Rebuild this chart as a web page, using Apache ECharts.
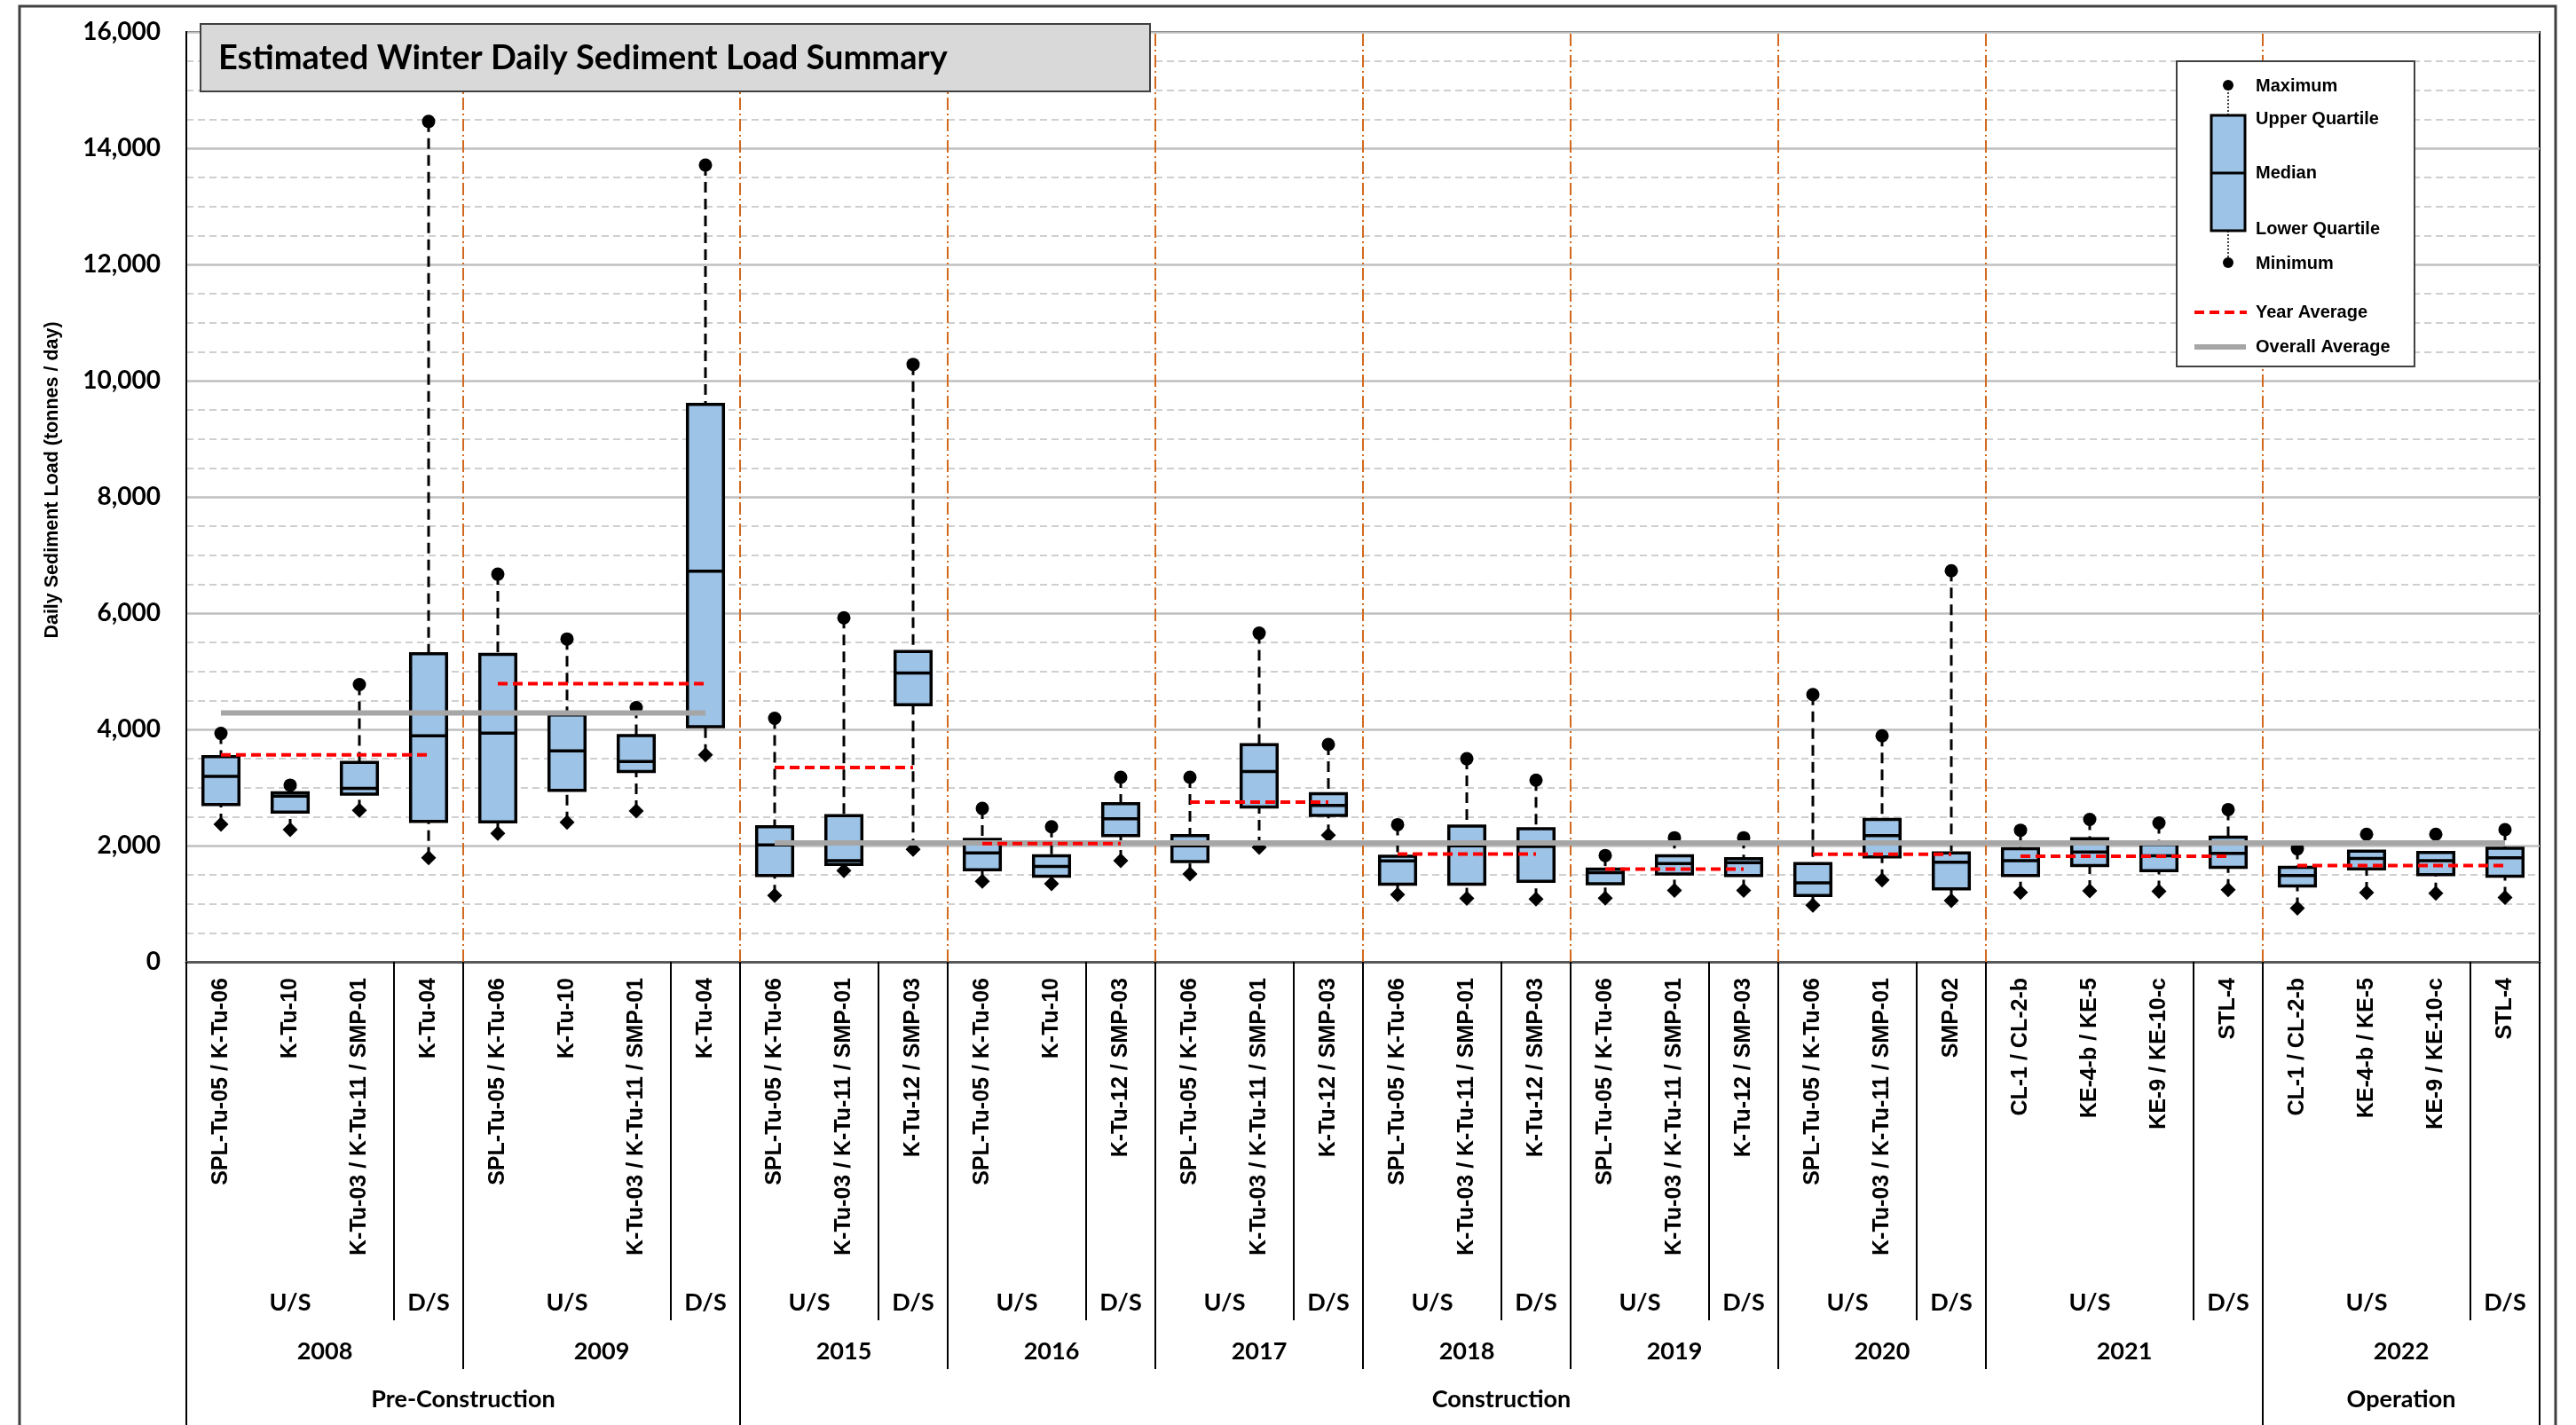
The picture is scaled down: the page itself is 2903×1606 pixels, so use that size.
<!DOCTYPE html>
<html>
<head>
<meta charset="utf-8">
<title>Estimated Winter Daily Sediment Load Summary</title>
<script src="https://cdn.jsdelivr.net/npm/echarts@6/dist/echarts.min.js"></script>
<style>
  html, body { margin: 0; padding: 0; background: #fff; }
  #chart { width: 2903px; height: 1606px; }
</style>
</head>
<body>
<div id="chart"></div>
<script>
// station names, in plotting order
const stations = [
  'SPL-Tu-05 / K-Tu-06', 'K-Tu-10', 'K-Tu-03 / K-Tu-11 / SMP-01', 'K-Tu-04',
  'SPL-Tu-05 / K-Tu-06', 'K-Tu-10', 'K-Tu-03 / K-Tu-11 / SMP-01', 'K-Tu-04',
  'SPL-Tu-05 / K-Tu-06', 'K-Tu-03 / K-Tu-11 / SMP-01', 'K-Tu-12 / SMP-03',
  'SPL-Tu-05 / K-Tu-06', 'K-Tu-10', 'K-Tu-12 / SMP-03',
  'SPL-Tu-05 / K-Tu-06', 'K-Tu-03 / K-Tu-11 / SMP-01', 'K-Tu-12 / SMP-03',
  'SPL-Tu-05 / K-Tu-06', 'K-Tu-03 / K-Tu-11 / SMP-01', 'K-Tu-12 / SMP-03',
  'SPL-Tu-05 / K-Tu-06', 'K-Tu-03 / K-Tu-11 / SMP-01', 'K-Tu-12 / SMP-03',
  'SPL-Tu-05 / K-Tu-06', 'K-Tu-03 / K-Tu-11 / SMP-01', 'SMP-02',
  'CL-1 / CL-2-b', 'KE-4-b / KE-5', 'KE-9 / KE-10-c', 'STL-4',
  'CL-1 / CL-2-b', 'KE-4-b / KE-5', 'KE-9 / KE-10-c', 'STL-4'
];

const maxLoad = [3930, 3040, 4770, 14460, 6670, 5555, 4375, 13710, 4190, 5920, 10280,
  2640, 2325, 3175, 3175, 5655, 3740, 2360, 3495, 3125, 1830, 2135, 2135,
  4600, 3890, 6730, 2265, 2450, 2390, 2620, 1945, 2195, 2195, 2275];
const upperQ = [3530, 2910, 3430, 5300, 5290, 4250, 3895, 9590, 2325, 2515, 5340,
  2105, 1825, 2720, 2170, 3735, 2895, 1815, 2335, 2290, 1595, 1825, 1775,
  1690, 2450, 1875, 1945, 2120, 2020, 2145, 1625, 1905, 1880, 1955];
const medianLoad = [3190, 2850, 2985, 3890, 3935, 3630, 3445, 6720, 2010, 1740, 4970,
  1875, 1640, 2460, 1995, 3275, 2690, 1735, 1995, 1985, 1535, 1690, 1705,
  1360, 2170, 1715, 1740, 1890, 1825, 1865, 1485, 1780, 1740, 1790];
const lowerQ = [2705, 2575, 2885, 2415, 2410, 2950, 3275, 4045, 1485, 1675, 4425,
  1585, 1475, 2170, 1725, 2665, 2520, 1335, 1335, 1385, 1345, 1510, 1485,
  1140, 1805, 1255, 1485, 1655, 1570, 1625, 1305, 1600, 1500, 1475];
const minLoad = [2365, 2275, 2605, 1790, 2210, 2400, 2595, 3560, 1140, 1570, 1935,
  1385, 1345, 1740, 1510, 1970, 2180, 1155, 1090, 1080, 1095, 1230, 1230,
  975, 1410, 1055, 1195, 1220, 1215, 1240, 925, 1190, 1180, 1105];

const yearLabels = ['2008', '2009', '2015', '2016', '2017', '2018', '2019', '2020', '2021', '2022'];
const yearSizes = [4, 4, 3, 3, 3, 3, 3, 3, 4, 4];
const upstreamSizes = [3, 3, 2, 2, 2, 2, 2, 2, 3, 3];
const yearAvg = [3560, 4785, 3345, 2035, 2750, 1855, 1595, 1850, 1815, 1655];

const phaseLabels = ['Pre-Construction', 'Construction', 'Operation'];
const phaseSizes = [8, 22, 4];

const overallAvg = [4283, 2045];
const overallSizes = [8, 26];

const yTicks = [0, 2000, 4000, 6000, 8000, 10000, 12000, 14000, 16000];

// ---- derived ----
const n = stations.length;
const boxData = stations.map((s, i) => [i, minLoad[i], lowerQ[i], medianLoad[i], upperQ[i], maxLoad[i]]);

const yearStarts = [];
yearSizes.reduce((acc, s) => { yearStarts.push(acc); return acc + s; }, 0);
const phaseBounds = [0];
phaseSizes.reduce((acc, s) => { phaseBounds.push(acc + s); return acc + s; }, 0);

const dividerData = yearStarts.slice(1).map(s => [s - 0.5]);

const sepDepth = { site: 404, year: 459, phase: 522 };
const sepData = [];
const tableItems = [];
const tableText = [];
yearLabels.forEach((y, k) => {
  const start = yearStarts[k];
  const us = upstreamSizes[k];
  const size = yearSizes[k];
  sepData.push([start + us, sepDepth.site]);
  if (!phaseBounds.includes(start)) sepData.push([start, sepDepth.year]);
  tableItems.push([start + us / 2, 384]); tableText.push('U/S');
  tableItems.push([start + us + (size - us) / 2, 384]); tableText.push('D/S');
  tableItems.push([start + size / 2, 439]); tableText.push(y);
});
phaseBounds.forEach(b => sepData.push([b, sepDepth.phase]));
phaseLabels.forEach((p, k) => {
  tableItems.push([(phaseBounds[k] + phaseBounds[k + 1]) / 2, 493]);
  tableText.push(p);
});

const avgSeries = [];
let oStart = 0;
overallSizes.forEach((s, k) => {
  avgSeries.push({
    name: 'Overall Average', type: 'line', xAxisIndex: 1, yAxisIndex: 0, z: 4,
    symbol: 'none', silent: true,
    data: [[oStart, overallAvg[k]], [oStart + s - 1, overallAvg[k]]],
    lineStyle: { color: '#a6a6a6', width: 6, cap: 'butt' }
  });
  oStart += s;
});
yearLabels.forEach((y, k) => {
  const s = yearStarts[k];
  avgSeries.push({
    name: 'Year Average ' + y, type: 'line', xAxisIndex: 1, yAxisIndex: 0, z: 5,
    symbol: 'none', silent: true,
    data: [[s, yearAvg[k]], [s + yearSizes[k] - 1, yearAvg[k]]],
    lineStyle: { color: '#ff0000', width: 4, type: [11, 6], cap: 'butt' }
  });
});

function renderBox(params, api) {
  const i = api.value(0);
  const top = api.coord([i, api.value(5)]);
  const q3 = api.coord([i, api.value(4)]);
  const med = api.coord([i, api.value(3)]);
  const q1 = api.coord([i, api.value(2)]);
  const bot = api.coord([i, api.value(1)]);
  const x = top[0];
  const w = api.size([1, 0])[0] * 0.52;
  const whisker = { stroke: '#000', lineWidth: 3, lineDash: [12, 7] };
  return {
    type: 'group',
    children: [
      { type: 'line', shape: { x1: x, y1: top[1], x2: x, y2: q3[1] }, style: whisker },
      { type: 'line', shape: { x1: x, y1: bot[1], x2: x, y2: q1[1] }, style: whisker },
      { type: 'rect', shape: { x: x - w / 2, y: q3[1], width: w, height: q1[1] - q3[1] },
        style: { fill: '#9dc3e6', stroke: '#000', lineWidth: 3.5 } },
      { type: 'line', shape: { x1: x - w / 2, y1: med[1], x2: x + w / 2, y2: med[1] },
        style: { stroke: '#000', lineWidth: 3.5 } },
      { type: 'circle', shape: { cx: x, cy: top[1], r: 7.5 }, style: { fill: '#000' } },
      { type: 'polygon', shape: { points: [[x, bot[1] - 8.5], [x + 8.5, bot[1]], [x, bot[1] + 8.5], [x - 8.5, bot[1]]] },
        style: { fill: '#000' } }
    ]
  };
}

const chart = echarts.init(document.getElementById('chart'));

const legendText = (t, y) => ({
  type: 'text', x: 2542, y, z: 101,
  style: { text: t, fontFamily: 'Liberation Sans', fontWeight: 'bold', fontSize: 20, fill: '#000', verticalAlign: 'middle' }
});

chart.setOption({
  animation: false,
  backgroundColor: '#fff',
  textStyle: { fontFamily: 'Lato' },
  grid: [
    { left: 210, right: 41, top: 36, bottom: 522, show: true, borderColor: '#000', borderWidth: 2, outerBoundsMode: 'none' },
    { left: 210, right: 41, top: 1084, bottom: 0, outerBoundsMode: 'none' }
  ],
  xAxis: [
    {
      type: 'category', gridIndex: 0, data: stations, boundaryGap: true,
      axisTick: { show: false },
      axisLine: { onZero: false, lineStyle: { color: '#595959', width: 3 } },
      axisLabel: { interval: 0, rotate: 90, margin: 18, fontFamily: 'Liberation Sans', fontWeight: 'bold', fontSize: 25, color: '#000' },
      splitLine: { show: false }
    },
    { type: 'value', gridIndex: 0, min: -0.5, max: n - 0.5, show: false },
    { type: 'value', gridIndex: 1, min: 0, max: n, show: false }
  ],
  yAxis: [
    {
      type: 'value', gridIndex: 0, min: yTicks[0], max: yTicks[yTicks.length - 1], interval: yTicks[1] - yTicks[0],
      name: 'Daily Sediment Load (tonnes / day)', nameLocation: 'middle', nameGap: 140, nameRotate: 90,
      nameTextStyle: { fontFamily: 'Liberation Sans', fontWeight: 'bold', fontSize: 21.5, color: '#000', padding: [0, 0, 0, 38] },
      axisLine: { show: true, onZero: false, lineStyle: { color: '#000', width: 2 } },
      axisTick: { show: false },
      axisLabel: { margin: 29, fontFamily: 'Lato', fontWeight: 'bold', fontSize: 28, color: '#000',
        formatter: v => v.toLocaleString('en-US') },
      splitLine: { show: true, lineStyle: { color: '#bfbfbf', width: 2.5 } },
      minorTick: { show: false, splitNumber: 4 },
      minorSplitLine: { show: true, lineStyle: { color: '#cfcfcf', width: 2, type: [8, 5] } }
    },
    { type: 'value', gridIndex: 1, min: 0, max: 522, inverse: true, show: false }
  ],
  series: [
    {
      name: 'Year dividers', type: 'custom', xAxisIndex: 1, yAxisIndex: 0, z: 1, silent: true,
      data: dividerData,
      renderItem: (params, api) => {
        const a = api.coord([api.value(0), yTicks[0]]);
        const b = api.coord([api.value(0), yTicks[yTicks.length - 1]]);
        return { type: 'line', shape: { x1: a[0], y1: a[1], x2: b[0], y2: b[1] },
          style: { stroke: '#d2691e', lineWidth: 2, lineDash: [14, 4, 2, 4] } };
      }
    },
    {
      name: 'Daily load', type: 'custom', xAxisIndex: 0, yAxisIndex: 0, z: 3, silent: true,
      data: boxData, encode: { x: 0, y: [1, 2, 3, 4, 5] },
      renderItem: renderBox
    },
    ...avgSeries,
    {
      name: 'Table lines', type: 'custom', xAxisIndex: 2, yAxisIndex: 1, silent: true,
      data: sepData,
      renderItem: (params, api) => {
        const a = api.coord([api.value(0), 0]);
        const b = api.coord([api.value(0), api.value(1)]);
        return { type: 'line', shape: { x1: a[0], y1: a[1], x2: b[0], y2: b[1] },
          style: { stroke: '#000', lineWidth: 2 } };
      }
    },
    {
      name: 'Table text', type: 'custom', xAxisIndex: 2, yAxisIndex: 1, silent: true,
      data: tableItems,
      renderItem: (params, api) => {
        const p = api.coord([api.value(0), api.value(1)]);
        return { type: 'text', x: p[0], y: p[1],
          style: { text: tableText[params.dataIndex], fontFamily: 'Lato', fontWeight: 'bold', fontSize: 27,
            fill: '#000', align: 'center', verticalAlign: 'middle' } };
      }
    }
  ],
  graphic: [
    { type: 'rect', z: 0, shape: { x: 22, y: 7, width: 2858, height: 1660 },
      style: { fill: 'none', stroke: '#404040', lineWidth: 3 } },
    { type: 'rect', z: 100, shape: { x: 226, y: 27, width: 1070, height: 76 },
      style: { fill: '#d9d9d9', stroke: '#404040', lineWidth: 2 } },
    { type: 'text', z: 101, x: 246, y: 66,
      style: { text: 'Estimated Winter Daily Sediment Load Summary', fontFamily: 'Lato', fontWeight: 'bold',
        fontSize: 38, fill: '#000', verticalAlign: 'middle' } },
    // legend
    { type: 'rect', z: 100, shape: { x: 2453, y: 69, width: 268, height: 344 },
      style: { fill: '#fff', stroke: '#404040', lineWidth: 2 } },
    { type: 'line', z: 101, shape: { x1: 2511, y1: 96, x2: 2511, y2: 130 }, style: { stroke: '#000', lineWidth: 1.5, lineDash: [2, 2] } },
    { type: 'line', z: 101, shape: { x1: 2511, y1: 260, x2: 2511, y2: 296 }, style: { stroke: '#000', lineWidth: 1.5, lineDash: [2, 2] } },
    { type: 'rect', z: 101, shape: { x: 2492, y: 130, width: 38, height: 130 }, style: { fill: '#9dc3e6', stroke: '#000', lineWidth: 3 } },
    { type: 'line', z: 102, shape: { x1: 2492, y1: 195, x2: 2530, y2: 195 }, style: { stroke: '#000', lineWidth: 3 } },
    { type: 'circle', z: 101, shape: { cx: 2511, cy: 96, r: 6 }, style: { fill: '#000' } },
    { type: 'circle', z: 101, shape: { cx: 2511, cy: 296, r: 6 }, style: { fill: '#000' } },
    { type: 'line', z: 101, shape: { x1: 2473, y1: 352, x2: 2532, y2: 352 }, style: { stroke: '#ff0000', lineWidth: 4, lineDash: [11, 6] } },
    { type: 'line', z: 101, shape: { x1: 2473, y1: 391, x2: 2531, y2: 391 }, style: { stroke: '#a6a6a6', lineWidth: 6 } },
    legendText('Maximum', 97),
    legendText('Upper Quartile', 134),
    legendText('Median', 195),
    legendText('Lower Quartile', 258),
    legendText('Minimum', 297),
    legendText('Year Average', 352),
    legendText('Overall Average', 391)
  ]
});
</script>
</body>
</html>
